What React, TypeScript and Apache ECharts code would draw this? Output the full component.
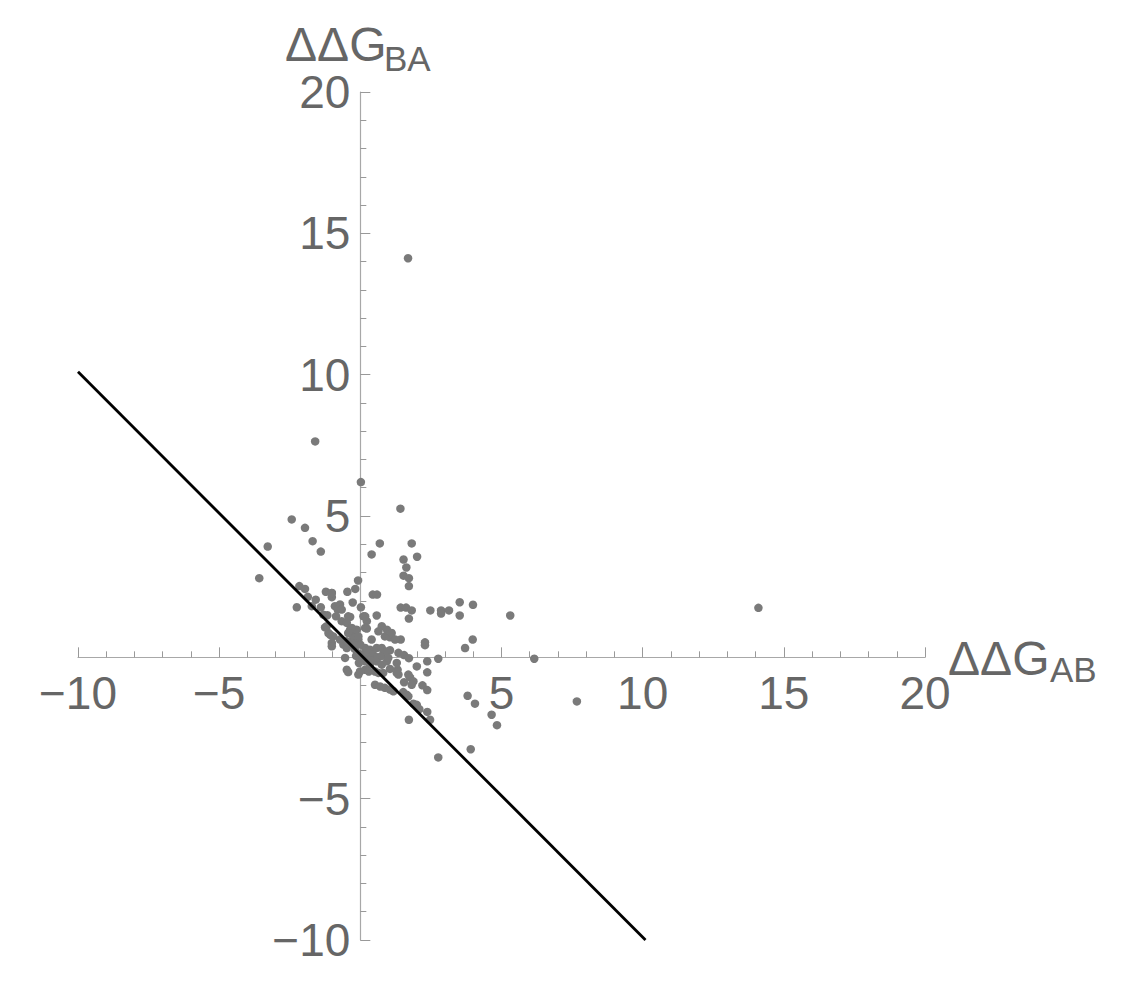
import React, { useEffect, useRef } from "react";
import * as echarts from "echarts";

// ΔΔG_AB (x) and ΔΔG_BA (y) values
const ddgAB: number[] = [
  1.69, -1.6, 0.02, 1.42, 14.1, 5.31, 6.16, 7.67, -3.28, -3.58,
  -2.43, -1.96, -1.69, -1.4, 0.69, 0.4, 1.82, 1.53, 2.01, 1.63,
  1.53, 1.72, 1.72, -0.08, -2.16, -1.96, -2.25, -1.86, -1.58, -1.22,
  -1.01, -0.46, -0.18, -0.27, 0.44, 0.59, 0.02, 0.58, 1.43, 1.62,
  1.82, 1.72, 2.48, 2.86, 2.86, 3.14, 3.52, 3.99, 3.52, -1.4,
  -1.72, -0.9, -0.72, -0.8, -0.66, -1.17, -0.36, 0.11, -1.01, -0.86,
  -0.66, -0.48, 0.23, 0.17, -1.25, -1.07, -1.01, -1.01, -0.72, -0.6,
  -0.36, -0.3, -0.13, -0.25, -0.07, -0.48, 0.23, 0.76, 0.64, 0.87,
  1.05, 0.4, 0.17, 0.34, 0.58, 1.05, 1.35, 1.55, 1.72, 1.43,
  2.29, 2.29, 3.98, 3.71, 2.76, 2.37, 2.0, 2.37, 1.32, 1.35,
  1.05, 1.7, 1.76, 1.88, 1.82, 1.55, 2.2, 2.37, 1.52, 1.64,
  1.7, 1.88, 2.0, 2.09, 2.37, 2.47, 1.72, 3.8, 4.06, 4.65,
  4.84, 3.91, 2.76, -0.54, -0.48, -0.43, -0.07, 0.17, 0.34, 0.17,
  0.58, 0.76, 0.94, 0.52, 0.64, 0.81, 1.29, 0.52, 0.7, 0.87,
  1.05, 1.17, -1.31, -0.43, 0.17, -0.96, -1.13, -1.19, 0.05, 0.15,
  0.3, 0.1, 0.25, -0.1, -0.2, 0.0, -0.15, 0.45, 0.6, 0.75,
  -0.3, -0.05, 0.35, -0.48, -0.07, -0.25, 0.94, 1.11, 1.23, 0.76,
  0.94, 0.99, 1.29, 0.3, -0.01, -1.01, -0.3, -0.43,
];
const ddgBA: number[] = [
  14.12, 7.64, 6.2, 5.26, 1.75, 1.48, -0.05, -1.56, 3.92, 2.8,
  4.88, 4.58, 4.11, 3.74, 4.03, 3.64, 4.03, 3.46, 3.56, 3.18,
  2.89, 2.8, 2.52, 2.72, 2.52, 2.42, 1.77, 2.14, 2.04, 2.32,
  2.13, 2.32, 2.42, 1.94, 2.22, 2.22, 1.77, 1.48, 1.76, 1.76,
  1.66, 1.37, 1.66, 1.66, 1.55, 1.66, 1.95, 1.86, 1.48, 1.77,
  1.81, 1.81, 1.87, 1.69, 1.69, 1.49, 1.43, 1.45, 2.28, 1.45,
  1.28, 1.22, 1.28, 1.04, 1.06, 0.8, 0.51, 0.39, 0.63, 0.45,
  0.98, 0.86, 0.98, 0.69, 0.63, 0.33, 1.02, 1.1, 0.92, 0.74,
  0.71, 0.63, 0.33, 0.27, 0.33, 0.25, 0.16, 0.08, -0.03, 0.63,
  0.53, 0.43, 0.63, 0.33, -0.05, -0.14, -0.32, -0.53, -0.44, -0.61,
  -0.41, -0.61, -0.71, -0.85, -0.97, -0.88, -0.99, -1.16, -1.23, -1.32,
  -1.38, -1.64, -1.68, -1.83, -1.93, -2.21, -2.21, -1.36, -1.64, -2.03,
  -2.4, -3.25, -3.54, -0.02, -0.44, -0.52, -0.61, -0.14, -0.26, -0.44,
  -0.14, -0.26, -0.14, -0.5, -0.55, -0.55, -0.55, -0.97, -1.03, -1.08,
  -1.14, -1.2, 1.51, 1.45, 1.45, 0.74, 0.86, 1.1, 0.1, 0.0,
  0.05, -0.05, 0.2, 0.15, 0.3, 0.45, 0.05, 0.1, 0.0, 0.05,
  0.5, -0.2, -0.1, 0.57, 0.74, 0.45, 0.98, 0.86, 0.63, 0.33,
  0.21, -0.02, -0.2, -0.5, -0.5, 2.28, 1.04, 0.86,
];

// reference line end points
const lineX: number[] = [-10, 10.1];
const lineY: number[] = [10.1, -10];

const axisMin = -10;
const axisMax = 20;
const axisStep = 5;

const xNameMain = "ΔΔG";
const xNameSub = "AB";
const yNameMain = "ΔΔG";
const yNameSub = "BA";

const FONT = "'Liberation Sans', Arial, Helvetica, sans-serif";
const labelColor = "#666666";

const W = 1121;
const H = 1002;
const G_LEFT = 78;
const G_RIGHT = 196;
const G_TOP = 92;
const G_BOTTOM = 62;

const fmt = (v: number) => (v === 0 ? "" : String(v).replace("-", "\u2212"));

export default function App() {
  const ref = useRef<HTMLDivElement>(null);
  useEffect(() => {
    if (!ref.current) return;
    const chart = echarts.init(ref.current, undefined, { renderer: "svg" });
    const points = ddgAB.map((x, i) => [x, ddgBA[i]]);
    const linePts = lineX.map((x, i) => [x, lineY[i]]);
    const gw = W - G_LEFT - G_RIGHT;
    const gh = H - G_TOP - G_BOTTOM;
    // move each axis from the grid edge to the other axis' zero
    const xOffset = -((0 - axisMin) / (axisMax - axisMin)) * gh;
    const yOffset = -((0 - axisMin) / (axisMax - axisMin)) * gw;
    const axisCommon = {
      type: "value",
      min: axisMin,
      max: axisMax,
      interval: axisStep,
      splitLine: { show: false },
      axisLine: { show: true, onZero: false, lineStyle: { color: "#a8a8a8", width: 1.2 } },
      axisTick: { show: true, inside: true, length: 10, lineStyle: { color: "#999999", width: 1 } },
      minorTick: { show: true, splitNumber: 5, length: 6, lineStyle: { color: "#999999", width: 1 } },
      minorSplitLine: { show: false },
      axisLabel: {
        show: true,
        fontSize: 46,
        fontFamily: FONT,
        color: labelColor,
        formatter: fmt,
        showMinLabel: true,
        showMaxLabel: true,
        hideOverlap: false,
      },
    };
    const textStyle = (size: number, lh: number) => ({
      fontSize: size,
      fontFamily: FONT,
      fill: labelColor,
      lineHeight: lh,
    });
    chart.setOption({
      animation: false,
      backgroundColor: "#ffffff",
      grid: {
        left: G_LEFT,
        right: G_RIGHT,
        top: G_TOP,
        bottom: G_BOTTOM,
        containLabel: false,
        outerBoundsMode: "none",
      },
      xAxis: {
        ...axisCommon,
        position: "bottom",
        offset: xOffset,
        axisLabel: { ...axisCommon.axisLabel, margin: 13 },
      },
      yAxis: {
        ...axisCommon,
        position: "left",
        offset: yOffset,
        axisLabel: { ...axisCommon.axisLabel, margin: 10 },
      },
      graphic: [
        { type: "text", x: 285, y: 44, style: { ...textStyle(48, 36), text: yNameMain, verticalAlign: "middle", align: "left" } },
        { type: "text", x: 384, y: 58, style: { ...textStyle(35, 28), text: yNameSub, verticalAlign: "middle", align: "left" } },
        { type: "text", x: 948, y: 658, style: { ...textStyle(48, 36), text: xNameMain, verticalAlign: "middle", align: "left" } },
        { type: "text", x: 1050, y: 669, style: { ...textStyle(35, 28), text: xNameSub, verticalAlign: "middle", align: "left" } },
      ],
      series: [
        {
          type: "scatter",
          data: points,
          symbolSize: 8.5,
          itemStyle: { color: "#7a7a7a", opacity: 1 },
          z: 2,
        },
        {
          type: "line",
          data: linePts,
          showSymbol: false,
          symbol: "none",
          lineStyle: { color: "#000000", width: 2.8 },
          z: 3,
        },
      ],
    });
    return () => chart.dispose();
  }, []);
  return (
    <div
      ref={ref}
      style={{ position: "absolute", left: 0, top: 0, width: W, height: H, background: "#fff" }}
    />
  );
}
